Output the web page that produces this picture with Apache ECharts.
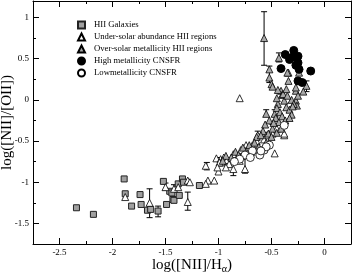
<!DOCTYPE html>
<html><head><meta charset="utf-8">
<script src="https://cdn.jsdelivr.net/npm/echarts@6/dist/echarts.min.js"></script>
<style>html,body{margin:0;padding:0;background:#fff}#c{width:353px;height:277px}</style>
</head><body><div id="c"></div>
<script>
const xMajor = [-2.5, -2, -1.5, -1, -0.5, 0];
const xMinor = [-2.75, -2.25, -1.75, -1.25, -0.75, -0.25, 0.25];
const yMajor = [-1.5, -1, -0.5, 0, 0.5, 1];
const yMinor = [-1.25, -0.75, -0.25, 0.25, 0.75];

const hiiGalaxies = [[-2.34,-1.31],[-2.18,-1.39],[-1.89,-0.96],[-1.88,-1.14],[-1.82,-1.29],[-1.74,-1.15],[-1.73,-1.27],[-1.67,-1.34],[-1.64,-1.33],[-1.57,-1.35],[-1.52,-0.99],[-1.49,-1.27],[-1.46,-1.11],[-1.44,-1.13],[-1.43,-1.21],[-1.42,-1.22],[-1.38,-1.02],[-1.37,-1.16],[-1.34,-0.96],[-1.33,-1.0],[-1.18,-1.04]];
const underSolar = [[-1.88,-1.18],[-1.65,-1.25],[-1.50,-1.06],[-1.42,-1.08],[-1.38,-1.06],[-1.29,-0.98],[-1.29,-1.24],[-1.27,-1.0],[-1.12,-0.80],[-1.10,-0.98],[-1.04,-0.98],[-1.12,-1.02],[-1.0,-0.87],[-0.80,0.02],
[-1.02,-0.71],[-0.98,-0.72],[-0.95,-0.70],[-0.92,-0.73],[-0.97,-0.76],[-0.90,-0.78],[-0.93,-0.82],[-0.86,-0.84],[-0.75,-0.84],[-0.86,-0.66],[-0.82,-0.70],[-0.78,-0.68],[-0.80,-0.74],[-0.76,-0.63],[-0.79,-0.61],[-0.74,-0.55],[-0.72,-0.60],[-0.70,-0.66],[-0.68,-0.55],[-0.64,-0.50],[-0.63,-0.43],[-0.55,-0.43],[-0.49,-0.41],[-0.57,-0.48],[-0.47,-0.65],[-0.38,-0.43],[-0.38,-0.41],[-0.45,-0.35],[-0.99,-0.76],[-1.01,-0.82]];
const overSolar = [[-0.57,0.75],[-0.43,0.51],[-0.52,0.37],[-0.52,0.27],[-0.50,0.19],[-0.49,0.16],[-0.34,0.33],[-0.34,0.23],[-0.17,0.17],[-0.41,0.11],[-0.40,0.06],[-0.38,-0.01],[-0.27,0.11],[-0.27,-0.01],[-0.26,-0.07],[-0.35,0.33],[-0.24,0.33],[-0.27,0.15],[-0.25,0.05],[-0.31,0.0],[-0.39,0.07],[-0.44,-0.05],[-0.36,-0.09],[-0.47,-0.17],[-0.55,-0.17],[-0.52,-0.25],[-0.49,-0.35],[-0.53,-0.41],[-0.64,-0.45],[-0.45,-0.10],[-0.42,-0.15],[-0.46,-0.22],[-0.43,-0.27],[-0.40,-0.20],[-0.33,-0.12],[-0.31,-0.18],[-0.29,-0.05],[-0.35,0.05],[-0.45,0.02],[-0.48,-0.28],[-0.56,-0.30],[-0.58,-0.38],[-0.60,-0.43],[-0.50,-0.45],[-0.66,-0.52],[-0.71,-0.55],[-0.74,-0.62],[-0.77,-0.58],[-0.84,-0.63],[-0.88,-0.70],[-0.93,-0.68],[-0.96,-0.74],[-0.81,-0.67],[-0.69,-0.63],[-0.62,-0.57],[-0.55,-0.52],[-0.45,-0.40],[-0.41,-0.35],[-0.30,-0.08],[-0.36,0.13],[-0.44,0.12],[-0.20,0.10],[-0.37,-0.25],[-0.33,-0.22]];
const highCNSFR = [[-0.37,0.55],[-0.33,0.49],[-0.29,0.60],[-0.25,0.53],[-0.25,0.45],[-0.41,0.38],[-0.24,0.37],[-0.13,0.35],[-0.25,0.23],[-0.21,0.21],[-0.30,0.52],[-0.27,0.42]];
const lowCNSFR = [[-0.38,-0.31],[-0.52,-0.55],[-0.57,-0.61],[-0.61,-0.67],[-0.68,-0.62],[-0.75,-0.67],[-0.55,-0.57],[-0.60,-0.62],[-0.80,-0.72],[-0.85,-0.75],[-0.70,-0.70]];
// [x, low, high]
const errorBars = [[-0.57,0.42,1.07],[-1.65,-1.43,-1.08],[-1.29,-1.34,-1.12],[-1.57,-1.42,-1.29],[-0.86,-0.92,-0.76],[-0.75,-0.89,-0.71],[-0.52,0.21,0.41],[-0.43,0.46,0.57],[-0.17,0.10,0.23],[-0.99,-0.80,-0.70],[-0.63,-0.47,-0.38],[-1.50,-1.10,-1.01],[-1.42,-1.12,-1.03],[-1.11,-0.85,-0.76],[-0.47,-0.20,-0.12],[-0.55,-0.20,-0.12],[-0.49,-0.38,-0.30]];

const serif = 'Liberation Serif';
const chart = echarts.init(document.getElementById('c'));
function axisBase(extra){return Object.assign({type:'value',min:-2.75,max:0.25,splitLine:{show:false},axisLine:{show:true,onZero:false,lineStyle:{color:'#000',width:1}},axisTick:{show:true,inside:true,length:6,lineStyle:{color:'#000'}},axisLabel:{show:false}},extra);}
function yBase(extra){return Object.assign({type:'value',min:-1.75,max:1.2,splitLine:{show:false},axisLine:{show:true,onZero:false,lineStyle:{color:'#000',width:1}},axisTick:{show:true,inside:true,length:6,lineStyle:{color:'#000'}},axisLabel:{show:false}},extra);}
const fmt = v => String(v);
chart.setOption({
  animation:false,
  grid:{left:33,right:2,top:1,bottom:33,containLabel:false,outerBoundsMode:'none'},
  xAxis:[
    axisBase({position:'bottom',axisTick:{show:true,inside:true,length:6,customValues:xMajor,lineStyle:{color:'#000'}},
      axisLabel:{show:true,customValues:xMajor,formatter:fmt,margin:4,fontFamily:serif,fontSize:9,color:'#000'},
      name:'log([NII]/H{s|α})',nameLocation:'middle',nameGap:13,nameMoveOverlap:false,
      nameTextStyle:{fontFamily:serif,fontSize:15,color:'#000',rich:{s:{fontFamily:serif,fontSize:10,color:'#000',verticalAlign:'bottom',padding:[7,0,0,0]}}}}),
    axisBase({position:'top',axisTick:{show:true,inside:true,length:6,customValues:xMajor,lineStyle:{color:'#000'}}}),
    axisBase({position:'bottom',axisLine:{show:false,onZero:false},axisTick:{show:true,inside:true,length:3,customValues:xMinor,lineStyle:{color:'#000'}}}),
    axisBase({position:'top',axisLine:{show:false,onZero:false},axisTick:{show:true,inside:true,length:3,customValues:xMinor,lineStyle:{color:'#000'}}})
  ],
  yAxis:[
    yBase({position:'left',axisTick:{show:true,inside:true,length:6,customValues:yMajor,lineStyle:{color:'#000'}},
      axisLabel:{show:true,customValues:yMajor,formatter:fmt,margin:4,fontFamily:serif,fontSize:9,color:'#000'},
      name:'log([NII]/[OII])',nameLocation:'middle',nameGap:18,nameRotate:90,nameMoveOverlap:false,
      nameTextStyle:{fontFamily:serif,fontSize:15,color:'#000'}}),
    yBase({position:'right',axisTick:{show:true,inside:true,length:6,customValues:yMajor,lineStyle:{color:'#000'}}}),
    yBase({position:'left',axisLine:{show:false,onZero:false},axisTick:{show:true,inside:true,length:3,customValues:yMinor,lineStyle:{color:'#000'}}}),
    yBase({position:'right',axisLine:{show:false,onZero:false},axisTick:{show:true,inside:true,length:3,customValues:yMinor,lineStyle:{color:'#000'}}})
  ],
  legend:{orient:'vertical',left:72,top:15,itemWidth:7,itemHeight:7,itemGap:2,
    data:['HII Galaxies','Under-solar abundance HII regions','Over-solar metallicity HII regions','High metallicity CNSFR','Lowmetallicity CNSFR'],
    textStyle:{fontFamily:serif,fontSize:8.7,lineHeight:10,color:'#000',padding:[0,0,0,4]}},
  series:[
    {type:'custom',name:'err',xAxisIndex:0,yAxisIndex:0,z:1,data:errorBars,clip:false,
      renderItem:function(params,api){
        const x=api.value(0),lo=api.value(1),hi=api.value(2);
        const a=api.coord([x,lo]),b=api.coord([x,hi]);
        const st={stroke:'#000',lineWidth:1};
        return {type:'group',children:[
          {type:'line',shape:{x1:a[0],y1:a[1],x2:b[0],y2:b[1]},style:st},
          {type:'line',shape:{x1:a[0]-3,y1:a[1],x2:a[0]+3,y2:a[1]},style:st},
          {type:'line',shape:{x1:b[0]-3,y1:b[1],x2:b[0]+3,y2:b[1]},style:st}]};
      }},
    {type:'scatter',name:'HII Galaxies',data:hiiGalaxies,symbol:'rect',symbolSize:6,z:2,itemStyle:{color:'#a0a0a0',borderColor:'#222',borderWidth:1,opacity:1}},
    {type:'scatter',name:'Under-solar abundance HII regions',data:underSolar,symbol:'triangle',symbolSize:7,z:3,itemStyle:{color:'#fff',borderColor:'#000',borderWidth:0.8,opacity:1}},
    {type:'scatter',name:'Over-solar metallicity HII regions',data:overSolar,symbol:'triangle',symbolSize:7,z:4,itemStyle:{color:'#a8a8a8',borderColor:'#000',borderWidth:0.8,opacity:1}},
    {type:'scatter',name:'High metallicity CNSFR',data:highCNSFR,symbol:'circle',symbolSize:8,z:5,itemStyle:{color:'#000',borderColor:'#000',borderWidth:1,opacity:1}},
    {type:'scatter',name:'Lowmetallicity CNSFR',data:lowCNSFR,symbol:'circle',symbolSize:8,z:5,itemStyle:{color:'#fff',borderColor:'#000',borderWidth:0.8,opacity:1}}
  ]
});
</script></body></html>
